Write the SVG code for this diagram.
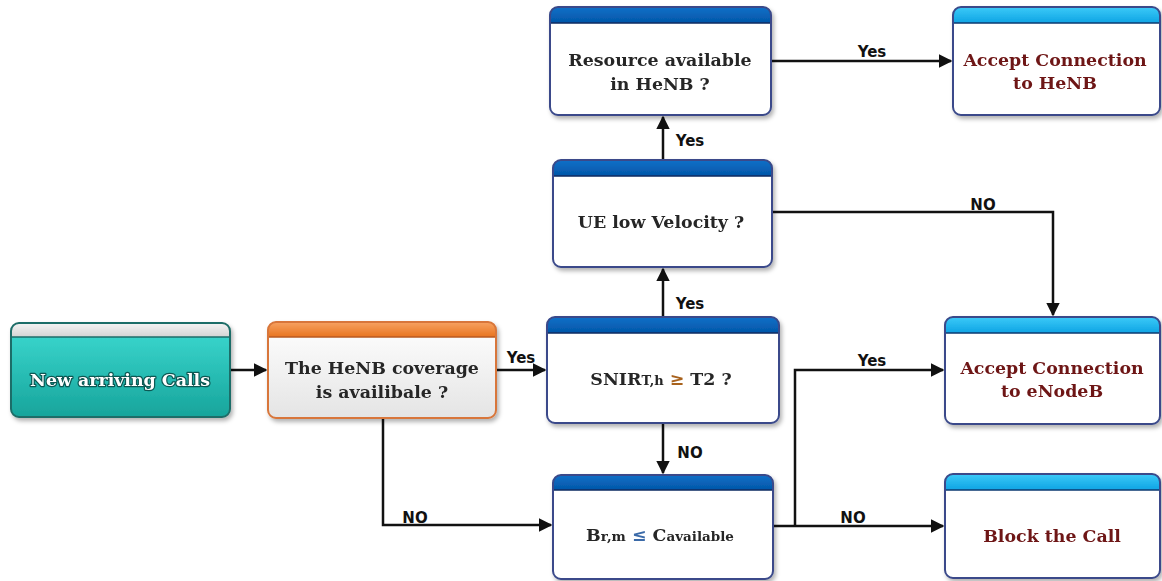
<svg xmlns="http://www.w3.org/2000/svg" width="1162" height="581" viewBox="0 0 1162 581">
<defs>
<linearGradient id="teal" x1="0" y1="0" x2="0" y2="1"><stop offset="0" stop-color="#3ddbd2"/><stop offset="1" stop-color="#17a49b"/></linearGradient>
<linearGradient id="grey" x1="0" y1="0" x2="0" y2="1"><stop offset="0" stop-color="#f4f4f4"/><stop offset="1" stop-color="#d4d4d4"/></linearGradient>
<linearGradient id="orange" x1="0" y1="0" x2="0" y2="1"><stop offset="0" stop-color="#f7a262"/><stop offset="1" stop-color="#e8741f"/></linearGradient>
<linearGradient id="obody" x1="0" y1="0" x2="0" y2="1"><stop offset="0" stop-color="#ffffff"/><stop offset="1" stop-color="#e4e4e4"/></linearGradient>
<linearGradient id="dblue" x1="0" y1="0" x2="0" y2="1"><stop offset="0" stop-color="#1170c8"/><stop offset="1" stop-color="#0256a8"/></linearGradient>
<linearGradient id="lblue" x1="0" y1="0" x2="0" y2="1"><stop offset="0" stop-color="#3ccaf8"/><stop offset="1" stop-color="#0ea4e4"/></linearGradient>
<filter id="sh" x="-10%" y="-10%" width="125%" height="130%"><feDropShadow dx="2" dy="3" stdDeviation="2" flood-color="#000" flood-opacity="0.3"/></filter>
<marker id="arr" viewBox="0 0 10 10" refX="9" refY="5" markerWidth="5.5" markerHeight="5.5" orient="auto" markerUnits="strokeWidth"><path d="M0,0 L10,5 L0,10 Z" fill="#111"/></marker>
</defs>
<style>
.brd{fill:none;stroke-width:2}
.sep{stroke-width:1.5}
.t{font-family:"DejaVu Serif","Liberation Serif",serif;font-weight:bold;font-size:17.4px;text-anchor:middle}
.dec{fill:#262626}
.res{fill:#6e1616}
.wt{fill:#ffffff;stroke:#0b5853;stroke-width:2.5;paint-order:stroke;stroke-linejoin:round}
.lbl{font-family:"DejaVu Sans","Liberation Sans",sans-serif;font-weight:bold;font-size:15px;fill:#111;text-anchor:middle}
.c{fill:none;stroke:#111;stroke-width:2.5}
</style>
<g id="connectors">
<path class="c" d="M230,370 L266,370" marker-end="url(#arr)"/>
<path class="c" d="M496,370 L545,370" marker-end="url(#arr)"/>
<path class="c" d="M383,418 L383,525 L551,525" marker-end="url(#arr)"/>
<path class="c" d="M663,317 L663,269" marker-end="url(#arr)"/>
<path class="c" d="M663,423 L663,473" marker-end="url(#arr)"/>
<path class="c" d="M663,160 L663,117" marker-end="url(#arr)"/>
<path class="c" d="M771,61 L951,61" marker-end="url(#arr)"/>
<path class="c" d="M772,212 L1053,212 L1053,315" marker-end="url(#arr)"/>
<path class="c" d="M773,526 L943,526" marker-end="url(#arr)"/>
<path class="c" d="M795,526 L795,370 L943,370" marker-end="url(#arr)"/>
<text class="lbl" x="521" y="363">Yes</text>
<text class="lbl" x="415" y="523">NO</text>
<text class="lbl" x="690" y="309">Yes</text>
<text class="lbl" x="690" y="458">NO</text>
<text class="lbl" x="690" y="146">Yes</text>
<text class="lbl" x="872" y="57">Yes</text>
<text class="lbl" x="983" y="210">NO</text>
<text class="lbl" x="853" y="523">NO</text>
<text class="lbl" x="872" y="366">Yes</text>
</g>
<g id="n-new" filter="url(#sh)">
<rect x="11" y="323" width="219" height="94" rx="8" fill="url(#teal)"/>
<path d="M11,337 L11,331 Q11,323 19,323 L222,323 Q230,323 230,331 L230,337 Z" fill="url(#grey)"/>
<line x1="11" y1="337" x2="230" y2="337" stroke="#1f6d68" class="sep"/>
<rect x="11" y="323" width="219" height="94" rx="8" class="brd" stroke="#1f6d68"/>
<text class="t wt" x="120" y="386" font-size="19">New arriving Calls</text>
</g>
<g id="n-coverage" filter="url(#sh)">
<rect x="268" y="322" width="228" height="96" rx="8" fill="url(#obody)"/>
<path d="M268,337 L268,330 Q268,322 276,322 L488,322 Q496,322 496,330 L496,337 Z" fill="url(#orange)"/>
<line x1="268" y1="337" x2="496" y2="337" stroke="#b85a20" class="sep"/>
<rect x="268" y="322" width="228" height="96" rx="8" class="brd" stroke="#d8763a"/>
<text class="t dec" x="382" y="374">The HeNB coverage</text>
<text class="t dec" x="382" y="398">is availibale ?</text>
</g>
<g id="n-snir" filter="url(#sh)">
<rect x="547" y="317" width="232" height="106" rx="8" fill="#fff"/>
<path d="M547,333 L547,325 Q547,317 555,317 L771,317 Q779,317 779,325 L779,333 Z" fill="url(#dblue)"/>
<line x1="547" y1="333" x2="779" y2="333" stroke="#0a2a60" class="sep"/>
<rect x="547" y="317" width="232" height="106" rx="8" class="brd" stroke="#3a4a8a"/>
<text class="t dec" x="661" y="385" font-size="18.5">SNIR<tspan font-size="13">T,h</tspan>  <tspan fill="#a8621e">≥</tspan> T2 ?</text>
</g>
<g id="n-br" filter="url(#sh)">
<rect x="553" y="475" width="220" height="104" rx="8" fill="#fff"/>
<path d="M553,490 L553,483 Q553,475 561,475 L765,475 Q773,475 773,483 L773,490 Z" fill="url(#dblue)"/>
<line x1="553" y1="490" x2="773" y2="490" stroke="#0a2a60" class="sep"/>
<rect x="553" y="475" width="220" height="104" rx="8" class="brd" stroke="#3a4a8a"/>
<text class="t dec" x="660" y="541" font-size="16.5">B<tspan font-size="13.5">r,m</tspan> <tspan fill="#3a6aa8">≤</tspan> C<tspan font-size="13.5">available</tspan></text>
</g>
<g id="n-resource" filter="url(#sh)">
<rect x="550" y="7" width="221" height="108" rx="8" fill="#fff"/>
<path d="M550,23 L550,15 Q550,7 558,7 L763,7 Q771,7 771,15 L771,23 Z" fill="url(#dblue)"/>
<line x1="550" y1="23" x2="771" y2="23" stroke="#0a2a60" class="sep"/>
<rect x="550" y="7" width="221" height="108" rx="8" class="brd" stroke="#3a4a8a"/>
<text class="t dec" x="660" y="66">Resource available</text>
<text class="t dec" x="660" y="90">in HeNB ?</text>
</g>
<g id="n-velocity" filter="url(#sh)">
<rect x="553" y="160" width="219" height="107" rx="8" fill="#fff"/>
<path d="M553,176 L553,168 Q553,160 561,160 L764,160 Q772,160 772,168 L772,176 Z" fill="url(#dblue)"/>
<line x1="553" y1="176" x2="772" y2="176" stroke="#0a2a60" class="sep"/>
<rect x="553" y="160" width="219" height="107" rx="8" class="brd" stroke="#3a4a8a"/>
<text class="t dec" x="661" y="228">UE low Velocity ?</text>
</g>
<g id="n-accept-henb" filter="url(#sh)">
<rect x="953" y="7" width="207" height="108" rx="8" fill="#fff"/>
<path d="M953,23 L953,15 Q953,7 961,7 L1152,7 Q1160,7 1160,15 L1160,23 Z" fill="url(#lblue)"/>
<line x1="953" y1="23" x2="1160" y2="23" stroke="#0a3a70" class="sep"/>
<rect x="953" y="7" width="207" height="108" rx="8" class="brd" stroke="#3a4a8a"/>
<text class="t res" x="1055" y="66">Accept Connection</text>
<text class="t res" x="1055" y="89">to HeNB</text>
</g>
<g id="n-accept-enb" filter="url(#sh)">
<rect x="945" y="317" width="215" height="107" rx="8" fill="#fff"/>
<path d="M945,333 L945,325 Q945,317 953,317 L1152,317 Q1160,317 1160,325 L1160,333 Z" fill="url(#lblue)"/>
<line x1="945" y1="333" x2="1160" y2="333" stroke="#0a3a70" class="sep"/>
<rect x="945" y="317" width="215" height="107" rx="8" class="brd" stroke="#3a4a8a"/>
<text class="t res" x="1052" y="374">Accept Connection</text>
<text class="t res" x="1052" y="397">to eNodeB</text>
</g>
<g id="n-block" filter="url(#sh)">
<rect x="945" y="474" width="215" height="104" rx="8" fill="#fff"/>
<path d="M945,490 L945,482 Q945,474 953,474 L1152,474 Q1160,474 1160,482 L1160,490 Z" fill="url(#lblue)"/>
<line x1="945" y1="490" x2="1160" y2="490" stroke="#0a3a70" class="sep"/>
<rect x="945" y="474" width="215" height="104" rx="8" class="brd" stroke="#3a4a8a"/>
<text class="t res" x="1052" y="542">Block the Call</text>
</g>
</svg>
